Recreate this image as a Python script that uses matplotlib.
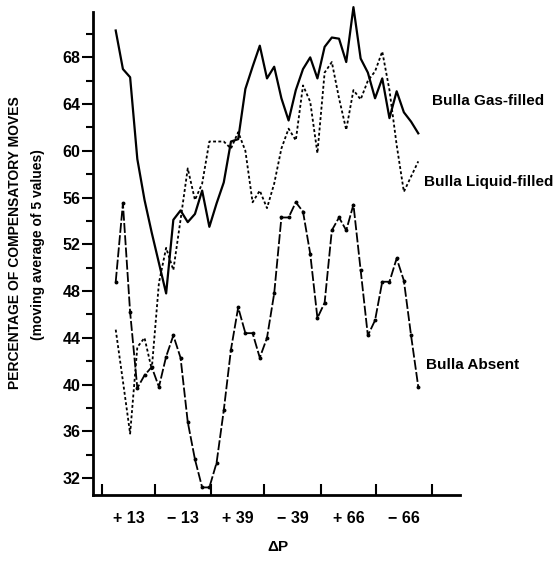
import numpy as np
import matplotlib
matplotlib.use("Agg")
from matplotlib import pyplot as plt

plt.rcParams['font.family'] = ['Liberation Sans', 'DejaVu Sans']
plt.rcParams['font.weight'] = 'bold'

# moving average (5 values) of percentage of compensatory moves
gas_filled = [70.3, 67.0, 66.3, 59.3, 55.8, 53.0, 50.4, 47.8, 54.1, 54.9,
              53.9, 54.6, 56.6, 53.5, 55.5, 57.3, 60.8, 61.0, 65.3, 67.2,
              69.0, 66.2, 67.2, 64.5, 62.6, 65.2, 67.0, 68.0, 66.2, 68.9,
              69.7, 69.6, 67.6, 72.3, 67.9, 66.7, 64.5, 66.2, 62.8, 65.1,
              63.3, 62.5, 61.5]
liquid_filled = [44.7, 40.3, 35.8, 43.2, 44.0, 41.3, 48.7, 51.7, 49.8, 54.1,
                 58.5, 55.8, 57.2, 60.8, 60.8, 60.8, 60.2, 61.6, 60.0, 55.6,
                 56.6, 55.1, 57.2, 60.2, 61.9, 60.9, 65.6, 64.2, 59.8, 66.7,
                 67.6, 64.5, 61.8, 65.2, 64.4, 66.0, 66.8, 68.5, 65.2, 60.5,
                 56.5, 57.8, 59.1]
absent = [48.8, 55.5, 46.2, 39.7, 40.8, 41.5, 39.8, 42.4, 44.2, 42.3,
          36.8, 33.6, 31.2, 31.2, 33.3, 37.8, 43.0, 46.6, 44.4, 44.4,
          42.3, 44.0, 47.8, 54.3, 54.3, 55.6, 54.8, 51.2, 45.7, 47.0,
          53.2, 54.3, 53.2, 55.4, 49.8, 44.2, 45.5, 48.8, 48.8, 50.8,
          48.9, 44.2, 39.8]
pressure_labels = ['+13', '\u221213', '+39', '\u221239', '+66', '\u221266']
y_ticks = [32, 36, 40, 44, 48, 52, 56, 60, 64, 68]

x = np.arange(len(gas_filled))

fig = plt.figure(figsize=(5.59, 5.62), dpi=100)
ax = fig.add_axes([0.1664, 0.1192, 0.823 - 0.1664, 0.979 - 0.1192])

ax.plot(x, gas_filled, color='black', lw=1.6, clip_on=False)
ax.plot(x, liquid_filled, color='black', lw=1.3, linestyle=(0, (1.6, 1.3)), clip_on=False)
ax.plot(x, absent, color='black', lw=1.3, linestyle=(0, (5.5, 1.3)), clip_on=False)
ax.plot(x, absent, color='black', lw=0, marker='o', ms=1.8, clip_on=False)

ax.set_xlim(-3.15, 47.8)
ax.set_ylim(30.55, 71.9)

# y axis
ax.set_yticks(y_ticks)
ax.set_yticklabels([str(v) for v in y_ticks], fontsize=11.5, fontweight='bold')
ax.set_yticks(np.arange(34, 72, 4), minor=True)
ax.tick_params(axis='y', which='major', direction='out', length=8, width=1.5, pad=1)
ax.tick_params(axis='y', which='minor', direction='out', length=5, width=1.5)

# x axis: boundaries as ticks, labels centered between
bounds = np.array([-1.94, 5.46, 13.19, 20.6, 28.47, 36.15, 43.89])
ax.set_xticks(bounds)
ax.set_xticklabels([''] * len(bounds))
ax.tick_params(axis='x', which='major', direction='in', length=8, width=1.5)
centers = (bounds[:-1] + bounds[1:]) / 2
for c, lab in zip(centers, pressure_labels):
    ax.text(c, 30.55 - 2.0, lab.replace('+', '+ ').replace('\u2212', '\u2212 '),
            ha='center', va='center', fontsize=11.5, fontweight='bold', clip_on=False)

for s in ['top', 'right']:
    ax.spines[s].set_visible(False)
ax.spines['left'].set_linewidth(2)
ax.spines['bottom'].set_linewidth(2)

fig.text(278 / 559, 1 - 547 / 562, '\u0394P', ha='center', va='center', fontsize=11, fontweight='bold')
fig.text(15 / 559, 1 - 243 / 562, 'PERCENTAGE OF COMPENSATORY MOVES', rotation=90,
         ha='center', va='center', fontsize=10, fontweight='bold')
fig.text(38 / 559, 1 - 245 / 562, '(moving average of 5 values)', rotation=90,
         ha='center', va='center', fontsize=10, fontweight='bold')

# curve labels
ax.text(43.9, 64.3, 'Bulla Gas-filled', fontsize=11, fontweight='bold', va='center', clip_on=False)
ax.text(42.8, 57.3, 'Bulla Liquid-filled', fontsize=11, fontweight='bold', va='center', clip_on=False)
ax.text(43.1, 41.7, 'Bulla Absent', fontsize=11, fontweight='bold', va='center', clip_on=False)

fig.savefig('out.png', dpi=100)
